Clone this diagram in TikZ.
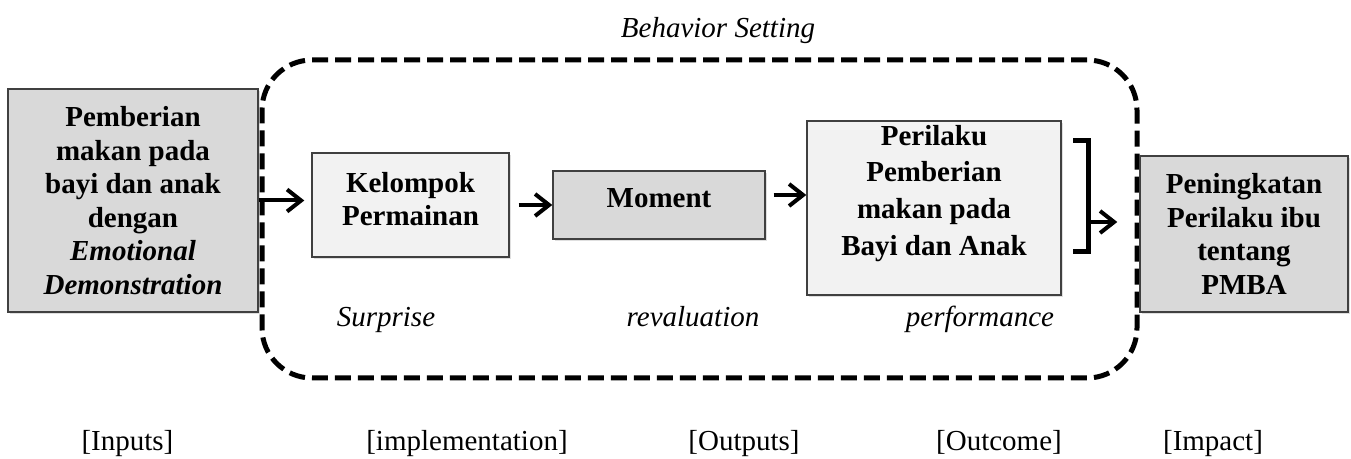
\documentclass[tikz,border=0pt]{standalone}
\usepackage{fontspec}
\setmainfont{Liberation Serif}
\usepackage{tikz}
\usetikzlibrary{arrows.meta,positioning,calc,shadows}
\definecolor{pmbadark}{HTML}{D9D9D9}
\definecolor{pmbalight}{HTML}{F2F2F2}
\definecolor{pmbaline}{HTML}{404040}

\begin{document}
\begin{tikzpicture}[x=0.5pt, y=-0.5pt,
  box/.style={draw=pmbaline, line width=0.7pt, align=center, inner sep=0pt,
    font=\fontsize{14.5}{16.75}\selectfont\bfseries,
    drop shadow={opacity=0.25, shadow xshift=0.8pt, shadow yshift=-0.8pt}},
  darkbox/.style={box, fill=pmbadark},
  lightbox/.style={box, fill=pmbalight},
  setting/.style={draw, line width=2.5pt, dash pattern=on 8pt off 3.5pt,
    rounded corners=25pt},
  lbl/.style={font=\fontsize{14.5}{18}\selectfont\itshape, anchor=base},
  stage/.style={font=\fontsize{14.5}{18}\selectfont, anchor=base},
  arr/.style={-{Straight Barb[length=7pt,width=11pt]}, line width=2pt},
  brace/.style={line width=2.5pt},
]
\useasboundingbox (0,0) rectangle (1351,459);
% --- behavior setting frame ---
\node[setting, minimum width=437.5pt, minimum height=159pt] (setting) at (699.5,219) {};
\node[lbl] (settingname) at (718,38) {Behavior Setting};
% --- boxes ---
\node[darkbox, minimum width=125pt, minimum height=111.5pt] (feed) at (133,200.5)
  {Pemberian\\makan pada\\bayi dan anak\\dengan\\\textit{Emotional}\\\textit{Demonstration}};
\node[lightbox, minimum width=98.5pt, minimum height=52pt, text depth=6.2pt] (group) at (410.5,205)
  {Kelompok\\Permainan};
\node[darkbox, minimum width=106pt, minimum height=34pt, text depth=7pt] (moment) at (659,205)
  {Moment};
\node[lightbox, minimum width=127pt, minimum height=87pt, text depth=18pt,
  font=\fontsize{14.5}{18.35}\selectfont\bfseries] (behav) at (934,208)
  {Perilaku\\Pemberian\\makan pada\\Bayi dan Anak};
\node[darkbox, minimum width=104pt, minimum height=78pt] (impact) at (1244,234)
  {Peningkatan\\Perilaku ibu\\tentang\\PMBA};
% --- arrows ---
\draw[arr, shorten >=3.5pt] (feed.east) -- (feed.east -| group.west);
\draw[arr, shorten <=4.5pt] (group.east) -- (moment.west);
\draw[arr, shorten <=4pt] ([yshift=5pt]moment.east) -- ([yshift=5pt]moment.east -| behav.west);
\coordinate (brtop) at (1088,141);
\coordinate (brbot) at (1088,252);
\coordinate (brmid) at (1088,222);
\draw[brace] ([xshift=-7.5pt]brtop) -- (brtop) -- (brbot) -- ([xshift=-7.5pt]brbot);
\draw[arr, shorten >=11pt] (brmid) -- (brmid -| impact.west);
% --- stage labels ---
\node[lbl] (surprise) at (386,327) {Surprise};
\node[lbl] (reval) at (693,327) {revaluation};
\node[lbl] (perf) at (980,327) {performance};
\node[stage] (inputs) at (127.5,451) {[Inputs]};
\node[stage] (implement) at (467,451) {[implementation]};
\node[stage] (outputs) at (744,451) {[Outputs]};
\node[stage] (outcome) at (999,451) {[Outcome]};
\node[stage] (impactlbl) at (1213,451) {[Impact]};
\end{tikzpicture}
\end{document}
